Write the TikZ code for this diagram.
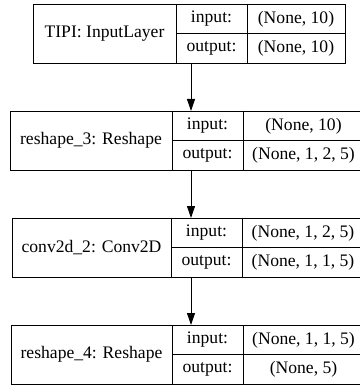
\documentclass[tikz,border=0pt]{standalone}
\usepackage{fontspec}
\setmainfont{Liberation Serif}
\usetikzlibrary{arrows.meta}

\tikzset{
  layerbox/.style={draw, line width=0.9pt, inner sep=0pt, minimum height=59pt, anchor=north west},
  cell/.style={inner sep=0pt, font=\fontsize{17.6}{20}\selectfont},
  flow/.style={-{Triangle[length=12pt,width=8pt]}, line width=0.9pt},
}

\begin{document}
\begin{tikzpicture}[x=1pt, y=-1pt]

\fill[white] (0,0) rectangle (359,387);
\useasboundingbox (0,0) rectangle (359,387);

\coordinate (spine) at (191,0);

\foreach \id/\lbl/\top/\l/\da/\db/\r/\in/\out in {
  tipi/{TIPI: InputLayer}/4/33/176/247/345/{(None, 10)}/{(None, 10)},
  reshape3/{reshape\_3: Reshape}/111/10/172/243/364/{(None, 10)}/{(None, 1, 2, 5)},
  conv2d2/{conv2d\_2: Conv2D}/218/12/171/242/364/{(None, 1, 2, 5)}/{(None, 1, 1, 5)},
  reshape4/{reshape\_4: Reshape}/325/11/172/243/364/{(None, 1, 1, 5)}/{(None, 5)}} {
  \pgfmathsetmacro\mid{\top+29.5}
  \pgfmathsetmacro\bot{\top+59}
  \node[layerbox, minimum width={\r pt-\l pt}] (\id) at (\l,\top) {};
  \draw[line width=0.9pt] (\da,\top) -- (\da,\bot) (\db,\top) -- (\db,\bot) (\da,\mid) -- (\r,\mid);
  \node[cell] (\id-name) at ({(\l+\da)/2},\mid) {\lbl};
  \node[cell] (\id-inl) at ({(\da+\db)/2},{\top+15}) {input:};
  \node[cell] (\id-inv) at ({(\db+\r)/2},{\top+15}) {\in};
  \node[cell] (\id-outl) at ({(\da+\db)/2},{\top+44.5}) {output:};
  \node[cell] (\id-outv) at ({(\db+\r)/2},{\top+44.5}) {\out};
}

\draw[flow] (tipi.south -| spine) -- (reshape3.north -| spine);
\draw[flow] (reshape3.south -| spine) -- (conv2d2.north -| spine);
\draw[flow] (conv2d2.south -| spine) -- (reshape4.north -| spine);

\end{tikzpicture}
\end{document}
